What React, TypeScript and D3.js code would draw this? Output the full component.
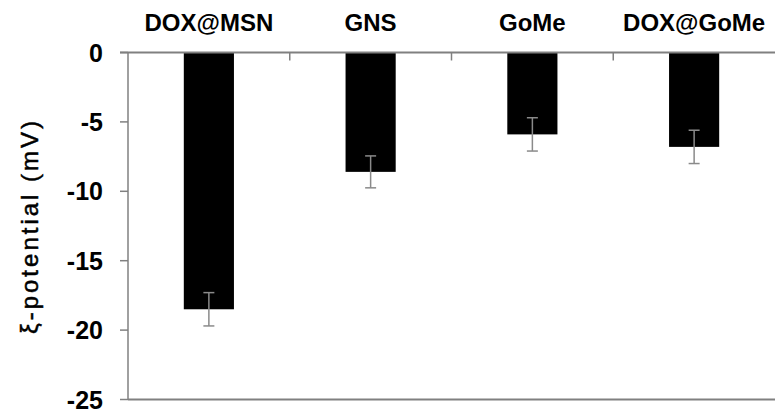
import * as d3 from "d3";

const categories = ["DOX@MSN", "GNS", "GoMe", "DOX@GoMe"];
const values = [-18.5, -8.6, -5.9, -6.8];
const errors = [1.2, 1.15, 1.2, 1.2];
const yTickValues = [0, -5, -10, -15, -20, -25];

export default function App() {
  const width = 775,
    height = 418;
  const left = 128,
    right = 775,
    top = 52.5,
    bottom = 399.5,
    tickLen = 8,
    capHalf = 5.5;
  const axisCol = "#808080";

  const xScale = d3
    .scaleBand<string>()
    .domain(categories)
    .range([left, right])
    .paddingInner(0.69)
    .paddingOuter(0.345);
  const yScale = d3.scaleLinear().domain([0, -25]).range([top, bottom]);
  const step = xScale.step();
  const bw = xScale.bandwidth();

  return (
    <svg
      width={width}
      height={height}
      style={{ position: "absolute", left: 0, top: 0, background: "#fff" }}
      fontFamily="'Liberation Sans', Arial, sans-serif"
    >
      {/* bars */}
      {categories.map((c, i) => (
        <rect
          key={c}
          x={xScale(c)}
          y={yScale(0)}
          width={bw}
          height={yScale(values[i]) - yScale(0)}
          fill="#000"
        />
      ))}
      {/* error bars */}
      {categories.map((c, i) => {
        const cx = (xScale(c) as number) + bw / 2;
        const y1 = yScale(values[i] + errors[i]);
        const y2 = yScale(values[i] - errors[i]);
        return (
          <g key={c} stroke="#8a8a8a" strokeWidth={1.5}>
            <line x1={cx} x2={cx} y1={y1} y2={y2} />
            <line x1={cx - capHalf} x2={cx + capHalf} y1={y1} y2={y1} />
            <line x1={cx - capHalf} x2={cx + capHalf} y1={y2} y2={y2} />
          </g>
        );
      })}
      {/* y axis */}
      <line x1={left} x2={left} y1={top} y2={bottom} stroke={axisCol} strokeWidth={1.5} />
      {yTickValues.map((t) => (
        <g key={t}>
          <line
            x1={left - tickLen}
            x2={left}
            y1={yScale(t)}
            y2={yScale(t)}
            stroke={axisCol}
            strokeWidth={1.5}
          />
          <text
            x={left - 25}
            y={yScale(t)}
            textAnchor="end"
            dominantBaseline="central"
            fontSize={25}
            fontWeight="bold"
            fill="#000"
          >
            {t}
          </text>
        </g>
      ))}
      {/* top (zero) axis and bottom line */}
      <line x1={left - tickLen} x2={right} y1={yScale(0)} y2={yScale(0)} stroke={axisCol} strokeWidth={2} />
      <line x1={left} x2={right} y1={yScale(-25)} y2={yScale(-25)} stroke={axisCol} strokeWidth={2} />
      {categories.slice(1).map((c) => (
        <line
          key={c}
          x1={(xScale(c) as number) - (step - bw) / 2}
          x2={(xScale(c) as number) - (step - bw) / 2}
          y1={yScale(0)}
          y2={yScale(0) + 8}
          stroke={axisCol}
          strokeWidth={1.5}
        />
      ))}
      {/* category labels */}
      {categories.map((c) => (
        <text
          key={c}
          x={(xScale(c) as number) + bw / 2}
          y={31}
          textAnchor="middle"
          fontSize={24}
          fontWeight="bold"
          fill="#000"
        >
          {c}
        </text>
      ))}
      {/* y title */}
      <text
        transform={`translate(38, ${(top + bottom) / 2}) rotate(-90)`}
        textAnchor="middle"
        fontSize={24}
        letterSpacing={3}
        stroke="#000"
        strokeWidth={0.5}
        fill="#000"
      >
        ξ-potential (mV)
      </text>
    </svg>
  );
}
